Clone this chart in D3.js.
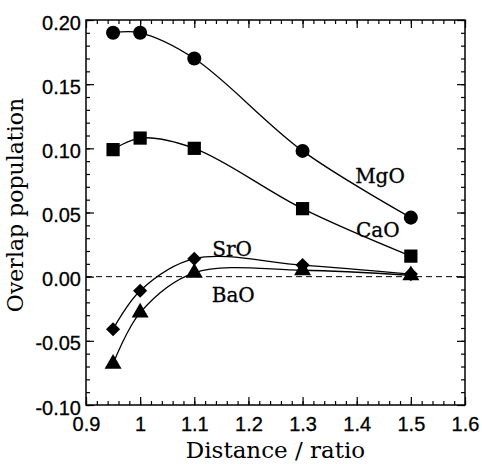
<!DOCTYPE html>
<html>
<head>
<meta charset="utf-8">
<script src="https://cdn.jsdelivr.net/npm/d3@7"></script>
<style>
  body { margin: 0; background: #fff; }
  svg { display: block; }
</style>
</head>
<body>
<div class="chart"></div>
<script>
var distance = [0.95, 1.0, 1.1, 1.3, 1.5]
var mgo = [0.190, 0.190, 0.170, 0.098, 0.046]
var cao = [0.099, 0.108, 0.100, 0.053, 0.016]
var sro = [-0.041, -0.011, 0.014, 0.009, 0.002]
var bao = [-0.068, -0.028, 0.003, 0.005, 0.001]
var xTicks = [0.9, 1, 1.1, 1.2, 1.3, 1.4, 1.5, 1.6]
var yTicks = [-0.10, -0.05, 0.00, 0.05, 0.10, 0.15, 0.20]

// label anchors in data units (x center, baseline)
var series = [
  {name: "MgO", values: mgo, symbol: d3.symbolCircle, size: 155, rot: 0, label: [1.443, 0.073]},
  {name: "CaO", values: cao, symbol: d3.symbolSquare, size: 175, rot: 0, label: [1.439, 0.031]},
  {name: "SrO", values: sro, symbol: d3.symbolSquare, size: 100, rot: 45, label: [1.170, 0.016]},
  {name: "BaO", values: bao, symbol: d3.symbolTriangle, size: 125, rot: 0, label: [1.172, -0.020]}
]

var width = 482,
  height = 464,
  mLeft = 86, mRight = 465, mTop = 20, mBottom = 405

var svg = d3.select(".chart").append("svg")
  .attr("width", width)
  .attr("height", height)

var x = d3.scaleLinear().domain([0.9, 1.6]).range([mLeft, mRight])
var y = d3.scaleLinear().domain([-0.1, 0.2]).range([mBottom, mTop])

var xMinor = d3.range(0.9, 1.6001, 0.02)
var yMinor = d3.range(-0.1, 0.2001, 0.01)

function tickAxis(axis, scale, vals, len, fmt) {
  return axis(scale).tickValues(vals).tickSizeInner(-len).tickSizeOuter(0).tickFormat(fmt || "")
}

var g = svg.append("g").attr("class", "axes")

// minor ticks on all four sides
g.append("g").attr("transform", `translate(0,${mBottom})`).call(tickAxis(d3.axisBottom, x, xMinor, 4))
g.append("g").attr("transform", `translate(0,${mTop})`).call(tickAxis(d3.axisTop, x, xMinor, 4))
g.append("g").attr("transform", `translate(${mLeft},0)`).call(tickAxis(d3.axisLeft, y, yMinor, 4))
g.append("g").attr("transform", `translate(${mRight},0)`).call(tickAxis(d3.axisRight, y, yMinor, 4))

// major ticks with labels
var xAxis = g.append("g").attr("transform", `translate(0,${mBottom})`)
  .call(tickAxis(d3.axisBottom, x, xTicks, 8, d => String(+d.toFixed(1))))
g.append("g").attr("transform", `translate(0,${mTop})`).call(tickAxis(d3.axisTop, x, xTicks, 8))
var yAxis = g.append("g").attr("transform", `translate(${mLeft},0)`)
  .call(tickAxis(d3.axisLeft, y, yTicks, 8, d => d.toFixed(2)))
g.append("g").attr("transform", `translate(${mRight},0)`).call(tickAxis(d3.axisRight, y, yTicks, 8))

g.selectAll(".domain").remove()
g.selectAll("line").attr("stroke", "#000").attr("stroke-width", 1.2)

xAxis.selectAll("text")
  .attr("y", 12)
  .attr("dy", "0.71em")
  .style("font-family", "'Liberation Sans', Arial, sans-serif")
  .style("font-size", "20px")
  .attr("fill", "#000")
  .attr("stroke", "#000").attr("stroke-width", 0.3)
yAxis.selectAll("text")
  .attr("x", -5)
  .attr("dy", "0.45em")
  .style("font-family", "'Liberation Sans', Arial, sans-serif")
  .style("font-size", "20px")
  .attr("fill", "#000")
  .attr("stroke", "#000").attr("stroke-width", 0.3)

// frame
svg.append("rect")
  .attr("x", mLeft).attr("y", mTop)
  .attr("width", mRight - mLeft).attr("height", mBottom - mTop)
  .attr("fill", "none").attr("stroke", "#000").attr("stroke-width", 1.5)

// zero line
svg.append("line")
  .attr("x1", mLeft).attr("x2", mRight)
  .attr("y1", y(0)).attr("y2", y(0))
  .attr("stroke", "#000").attr("stroke-width", 1)
  .attr("stroke-dasharray", "6,4")

var line = d3.line()
  .x((d, i) => x(distance[i]))
  .y(d => y(d))
  .curve(d3.curveCatmullRom.alpha(0.5))

var groups = svg.append("g").selectAll("g")
  .data(series)
  .enter().append("g")

groups.append("path")
  .attr("d", d => line(d.values))
  .attr("fill", "none")
  .attr("stroke", "#000")
  .attr("stroke-width", 1.3)

groups.selectAll("path.marker")
  .data(d => d.values.map((v, i) => ({v: v, i: i, s: d})))
  .enter().append("path")
  .attr("class", "marker")
  .attr("d", d => d3.symbol().type(d.s.symbol).size(d.s.size)())
  .attr("transform", d => `translate(${x(distance[d.i])},${y(d.v)}) rotate(${d.s.rot})`)
  .attr("fill", "#000")

groups.append("text")
  .attr("x", d => x(d.label[0]))
  .attr("y", d => y(d.label[1]))
  .attr("text-anchor", "middle")
  .style("font-family", "'DejaVu Serif', 'Liberation Serif', serif")
  .style("font-size", "20px")
  .attr("stroke", "#000").attr("stroke-width", 0.3)
  .text(d => d.name)

// axis titles
svg.append("text")
  .attr("x", (mLeft + mRight) / 2)
  .attr("y", 458)
  .attr("text-anchor", "middle")
  .style("font-family", "'DejaVu Serif', 'Liberation Serif', serif")
  .style("font-size", "23px")
  .text("Distance / ratio")

svg.append("text")
  .attr("transform", `translate(23,205) rotate(-90)`)
  .attr("text-anchor", "middle")
  .style("font-family", "'DejaVu Serif', 'Liberation Serif', serif")
  .style("font-size", "22px")
  .text("Overlap population")
</script>
</body>
</html>
